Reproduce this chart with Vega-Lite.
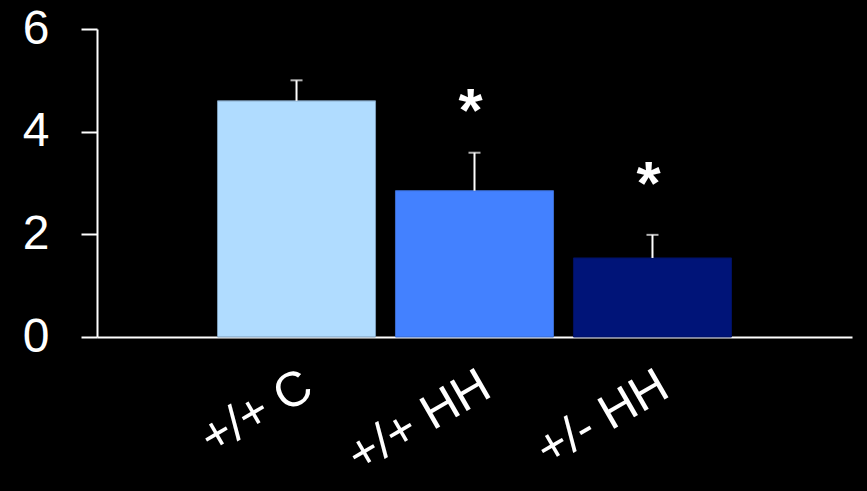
{
  "$schema": "https://vega.github.io/schema/vega-lite/v6.json",
  "width": 755,
  "height": 308,
  "autosize": "none",
  "padding": {"left": 97, "top": 29, "right": 15, "bottom": 154},
  "background": "black",
  "config": {"view": {"stroke": null}, "font": "Liberation Sans"},
  "data": {
    "values": [
      {"group": "+/+ C", "mean": 4.6, "upper": 5.0, "star": null},
      {"group": "+/+ HH", "mean": 2.85, "upper": 3.59, "star": 4.53},
      {"group": "+/- HH", "mean": 1.54, "upper": 1.99, "star": 3.12}
    ]
  },
  "encoding": {
    "x": {
      "field": "group",
      "type": "nominal",
      "sort": null,
      "scale": {"paddingInner": 0.112, "paddingOuter": 0.677},
      "axis": {
        "title": null,
        "ticks": false,
        "tickSize": 0,
        "domainColor": "white",
        "domainWidth": 2,
        "labelAngle": -30,
        "labelAlign": "right",
        "labelBaseline": "top",
        "labelFontSize": 49,
        "labelFont": "Liberation Sans",
        "labelColor": "white",
        "labelPadding": 24,
        "labelDx": -2,
        "labelOverlap": false
      }
    }
  },
  "layer": [
    {
      "mark": {"type": "bar", "strokeWidth": 1},
      "encoding": {
        "y": {
          "field": "mean",
          "type": "quantitative",
          "scale": {"domain": [0, 6]},
          "axis": {
            "title": null,
            "values": [0, 2, 4, 6],
            "grid": false,
            "domainColor": "white",
            "domainWidth": 2,
            "tickColor": "white",
            "tickWidth": 2,
            "tickSize": 16,
            "labelFontSize": 48,
            "labelFont": "Liberation Sans",
            "labelColor": "white",
            "labelPadding": 32,
            "labelOverlap": false,
            "labelFlush": false
          }
        },
        "color": {
          "field": "group",
          "type": "nominal",
          "sort": null,
          "scale": {"domain": ["+/+ C", "+/+ HH", "+/- HH"], "range": ["#B0DCFF", "#4381FF", "#001478"]},
          "legend": null
        },
        "stroke": {
          "field": "group",
          "type": "nominal",
          "sort": null,
          "scale": {"domain": ["+/+ C", "+/+ HH", "+/- HH"], "range": ["#7C9CB8", "#3A6ACC", "#001060"]},
          "legend": null
        }
      }
    },
    {
      "mark": {"type": "rule", "color": "white", "strokeWidth": 2},
      "encoding": {
        "y": {"field": "mean", "type": "quantitative"},
        "y2": {"field": "upper"}
      }
    },
    {
      "mark": {"type": "tick", "color": "white", "thickness": 2, "size": 12},
      "encoding": {
        "y": {"field": "upper", "type": "quantitative"}
      }
    },
    {
      "mark": {"type": "text", "text": "*", "color": "white", "fontSize": 62, "fontWeight": "bold", "dx": -4, "dy": 8, "baseline": "middle", "font": "Liberation Sans"},
      "encoding": {
        "y": {"field": "star", "type": "quantitative"}
      }
    }
  ]
}
